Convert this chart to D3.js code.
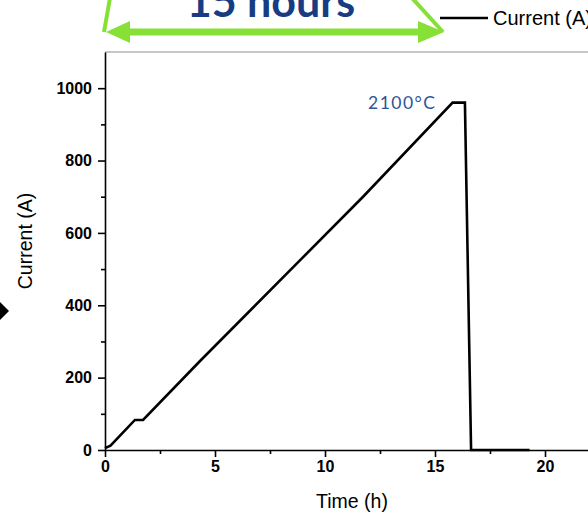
<!DOCTYPE html>
<html>

<head>
	<title>Current vs Time</title>
	<style>
		body,
		html {
			margin: 0;
			padding: 0;
			background: #fff;
		}
	</style>
</head>

<body>

	<svg id="svg" width="588" height="515"></svg>

	<script src="https://d3js.org/d3.v7.min.js"></script>
	<script>
		// Data: time in hours, current in amps
		const timeH = [0, 0.25, 1.36, 1.73, 4.32, 8.86, 11.73, 15.8, 16.36, 16.64, 19.3]
		const currentA = [5, 12, 83, 83, 246, 524, 700, 960, 960, 0, 0]

		// Tick values
		const xMajor = [0, 5, 10, 15, 20]
		const xMinor = [2.5, 7.5, 12.5, 17.5]
		const yMajor = [0, 200, 400, 600, 800, 1000]
		const yMinor = [100, 300, 500, 700, 900]

		// Annotation texts
		const spanLabel = '15 hours'
		const peakLabel = '2100°C'
		const seriesName = 'Current (A)'

		const svg = d3.select('#svg')

		// Scales
		const x = d3.scaleLinear().domain([0, 22.5]).range([105, 600])
		const y = d3.scaleLinear().domain([0, 1100]).range([450, 52])

		// Top frame line
		svg.append('line')
			.attr('x1', x(0)).attr('x2', 588)
			.attr('y1', y(1100)).attr('y2', y(1100))
			.attr('stroke', '#b4b4b4')
			.attr('stroke-width', 1.5)

		// Axes - major ticks with labels
		svg.append('g')
			.attr('transform', `translate(0, ${y(0)})`)
			.call(d3.axisBottom(x).tickValues(xMajor).tickFormat(d3.format('d'))
				.tickSize(7).tickPadding(4).tickSizeOuter(0))
		svg.append('g')
			.attr('transform', `translate(${x(0)}, 0)`)
			.call(d3.axisLeft(y).tickValues(yMajor).tickFormat(d3.format('d'))
				.tickSize(7).tickPadding(6).tickSizeOuter(0))

		// Minor ticks
		svg.append('g')
			.attr('transform', `translate(0, ${y(0)})`)
			.call(d3.axisBottom(x).tickValues(xMinor).tickSize(4).tickFormat('').tickSizeOuter(0))
			.select('.domain').remove()
		svg.append('g')
			.attr('transform', `translate(${x(0)}, 0)`)
			.call(d3.axisLeft(y).tickValues(yMinor).tickSize(4).tickFormat('').tickSizeOuter(0))
			.select('.domain').remove()

		svg.selectAll('.domain, .tick line')
			.attr('stroke', '#000')
			.attr('stroke-width', 1.6)

		svg.selectAll('.tick text')
			.attr('font-family', 'Liberation Sans, Arial, sans-serif')
			.attr('font-weight', 'bold')
			.attr('font-size', 16)
			.attr('fill', '#000')

		// Axis titles
		svg.append('text')
			.attr('x', 352).attr('y', 508)
			.attr('text-anchor', 'middle')
			.attr('font-family', 'Liberation Sans, Arial, sans-serif')
			.attr('font-size', 19.5)
			.text('Time (h)')

		svg.append('text')
			.attr('transform', 'translate(32, 241) rotate(-90)')
			.attr('text-anchor', 'middle')
			.attr('font-family', 'Liberation Sans, Arial, sans-serif')
			.attr('font-size', 19.5)
			.text('Current (A)')

		// The current curve
		const line = d3.line()
			.x((d, i) => x(timeH[i]))
			.y(d => y(d))

		svg.append('path')
			.datum(currentA)
			.attr('d', line)
			.attr('fill', 'none')
			.attr('stroke', '#000')
			.attr('stroke-width', 2.6)
			.attr('stroke-linejoin', 'miter')

		// Peak temperature label
		svg.append('text')
			.attr('x', 368).attr('y', 109)
			.attr('font-family', 'Lato, Open Sans, sans-serif')
			.attr('font-size', 17.5)
			.attr('letter-spacing', 1.5)
			.attr('fill', '#2f5597')
			.text(peakLabel)

		// Legend (cut off at right edge)
		svg.append('line')
			.attr('x1', 440).attr('x2', 488)
			.attr('y1', 18).attr('y2', 18)
			.attr('stroke', '#000')
			.attr('stroke-width', 2.5)
		svg.append('text')
			.attr('x', 493).attr('y', 25)
			.attr('font-family', 'Liberation Sans, Arial, sans-serif')
			.attr('font-size', 20)
			.text(seriesName)

		// Green "15 hours" bracket arrow
		const green = '#86e036'
		const ay = 32
		svg.append('line')
			.attr('x1', 110).attr('y1', -2).attr('x2', 104).attr('y2', ay)
			.attr('stroke', green).attr('stroke-width', 4)
		svg.append('line')
			.attr('x1', 412).attr('y1', -2).attr('x2', 443).attr('y2', ay)
			.attr('stroke', green).attr('stroke-width', 4)
		svg.append('line')
			.attr('x1', 126).attr('y1', ay).attr('x2', 422).attr('y2', ay)
			.attr('stroke', green).attr('stroke-width', 7)
		svg.append('polygon')
			.attr('points', `106,${ay} 130,${ay - 11} 130,${ay + 11}`)
			.attr('fill', green)
		svg.append('polygon')
			.attr('points', `444,${ay} 418,${ay - 11} 418,${ay + 11}`)
			.attr('fill', green)

		svg.append('text')
			.attr('x', 271).attr('y', 17)
			.attr('text-anchor', 'middle')
			.attr('font-family', 'Lato, Open Sans, sans-serif')
			.attr('font-weight', 'bold')
			.attr('font-size', 43)
			.attr('fill', '#173c82')
			.text(spanLabel)

		// Black arrow tip poking in from the left
		svg.append('polygon')
			.attr('points', '0,302 9,311 0,320')
			.attr('fill', '#000')
	</script>
</body>
</html>
